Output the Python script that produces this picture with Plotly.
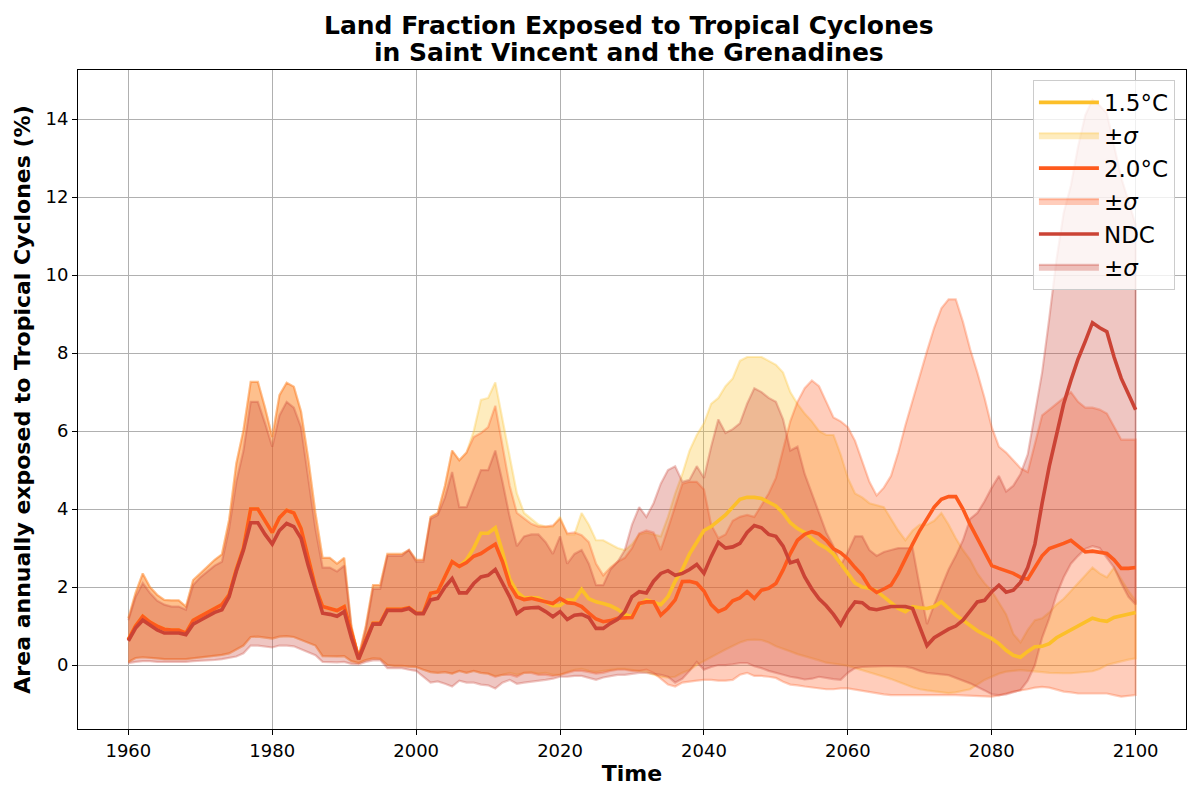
import plotly.graph_objects as go

years = list(range(1960, 2101))

# Shared historical period (1960-2006) for 1.5°C and 2.0°C
hist_mean = [0.65, 1.0, 1.25, 1.1, 1.0, 0.92, 0.9, 0.9, 0.82, 1.15,
             1.25, 1.35, 1.45, 1.55, 1.8, 2.45, 3.0, 4.0, 4.0, 3.7,
             3.4, 3.78, 3.97, 3.9, 3.5, 2.75, 2.0, 1.5, 1.46, 1.4,
             1.5, 0.8, 0.18, 0.65, 1.07, 1.07, 1.43, 1.43, 1.43, 1.47,
             1.33, 1.33, 1.84, 1.88, 2.26, 2.65, 2.53]
hist_upper = [1.2, 1.85, 2.35, 2.0, 1.8, 1.67, 1.66, 1.66, 1.5, 2.18,
              2.35, 2.52, 2.7, 2.84, 3.72, 5.17, 6.03, 7.26, 7.26, 6.6,
              5.85, 6.92, 7.24, 7.14, 6.5, 5.3, 3.9, 2.75, 2.75, 2.6,
              2.75, 1.0, 0.22, 1.0, 2.05, 2.05, 2.85, 2.85, 2.85, 2.95,
              2.7, 2.7, 3.8, 3.9, 4.6, 5.5, 5.25]
hist_lower = [0.08, 0.18, 0.2, 0.18, 0.17, 0.15, 0.15, 0.15, 0.15, 0.18,
              0.2, 0.22, 0.24, 0.26, 0.3, 0.4, 0.5, 0.72, 0.73, 0.7,
              0.68, 0.73, 0.74, 0.72, 0.65, 0.58, 0.5, 0.23, 0.23, 0.22,
              0.23, 0.1, 0.05, 0.13, 0.17, 0.16, 0.0, -0.02, -0.02, -0.04,
              -0.05, -0.12, -0.18, -0.2, -0.18, -0.22, -0.15]

# 2.0°C, 2007-2100
t20_mean = [2.63, 2.79, 2.86,
            2.98, 3.1, 2.65, 2.05, 1.75, 1.68, 1.71, 1.67, 1.62, 1.58,
            1.71, 1.6, 1.58, 1.5, 1.33, 1.18, 1.11, 1.14, 1.2, 1.2,
            1.22, 1.58, 1.62, 1.62, 1.28, 1.45, 1.67, 2.14, 2.15, 2.1,
            1.9, 1.55, 1.37, 1.45, 1.65, 1.72, 1.88, 1.71, 1.92, 1.97,
            2.09, 2.44, 2.86, 3.2, 3.35, 3.42, 3.36, 3.2, 2.98, 2.88,
            2.72, 2.5, 2.3, 2.0, 1.86, 1.95, 2.05, 2.35, 2.75, 3.1,
            3.45, 3.75, 4.05, 4.25, 4.32, 4.32, 4.0, 3.6, 3.25, 2.9,
            2.55, 2.48, 2.42, 2.35, 2.25, 2.2, 2.5, 2.8, 2.99, 3.05,
            3.12, 3.2, 3.05, 2.9, 2.92, 2.9, 2.86, 2.7, 2.48, 2.48, 2.5]
t20_upper = [5.45, 5.85, 5.95,
             6.1, 6.65, 5.6, 4.6, 3.9, 3.75, 3.62, 3.55, 3.55, 3.58,
             3.75, 3.38, 3.4, 3.33, 3.15, 2.6, 2.3, 2.5, 2.65, 2.75,
             3.0, 3.38, 3.45, 3.4, 2.95, 3.5, 4.05, 4.65, 4.7, 4.7,
             4.5, 3.6, 3.25, 3.35, 3.7, 3.8, 3.85, 3.8, 4.1, 4.4,
             4.8, 5.5, 6.25, 6.75, 7.1, 7.3, 7.15, 6.75, 6.35, 6.25,
             6.1, 5.75, 5.25, 4.7, 4.35, 4.55, 4.85, 5.45, 6.15, 6.8,
             7.45, 8.05, 8.65, 9.15, 9.38, 9.38, 8.8, 8.1, 7.5, 6.85,
             6.1, 5.6, 5.45, 5.25, 5.05, 4.95, 5.7, 6.4, 6.55, 6.7,
             6.85, 7.0, 6.75, 6.6, 6.6, 6.55, 6.45, 6.1, 5.78, 5.78, 5.78]
t20_lower = [-0.2, -0.15, -0.2,
             -0.22, -0.3, -0.25, -0.25, -0.3, -0.2, -0.2, -0.25, -0.25, -0.28,
             -0.25, -0.2, -0.15, -0.15, -0.18, -0.22, -0.2, -0.15, -0.12, -0.12,
             -0.15, -0.15, -0.12, -0.2, -0.35, -0.5, -0.55, -0.45, -0.42, -0.4,
             -0.38, -0.38, -0.4, -0.4, -0.38, -0.25, -0.2, -0.28, -0.28, -0.3,
             -0.33, -0.43, -0.5, -0.52, -0.55, -0.58, -0.6, -0.62, -0.62, -0.6,
             -0.6, -0.63, -0.66, -0.7, -0.72, -0.75, -0.77, -0.77, -0.77, -0.77,
             -0.77, -0.77, -0.77, -0.77, -0.77, -0.77, -0.78, -0.78, -0.79, -0.8,
             -0.81, -0.78, -0.73, -0.68, -0.65, -0.62, -0.58, -0.56, -0.58, -0.63,
             -0.68, -0.7, -0.73, -0.73, -0.73, -0.73, -0.73, -0.77, -0.81, -0.79, -0.77]

# 1.5°C, 2007-2100
t15_mean = [2.7, 3.0, 3.38,
            3.38, 3.52, 2.9, 2.2, 1.88, 1.72, 1.73, 1.72, 1.62, 1.52,
            1.53, 1.67, 1.67, 1.94, 1.7, 1.62, 1.58, 1.52, 1.43, 1.3,
            1.24, 1.55, 1.67, 1.6, 1.55, 1.75, 2.15, 2.45, 2.85, 3.15,
            3.45, 3.55, 3.7, 3.85, 4.05, 4.25, 4.3, 4.3, 4.27, 4.17,
            4.08, 3.9, 3.65, 3.5, 3.4, 3.25, 3.1, 3.0, 2.85, 2.6,
            2.35, 2.1, 2.0, 1.97, 1.9, 1.75, 1.6, 1.45, 1.37, 1.5,
            1.47, 1.45, 1.5, 1.62, 1.45, 1.28, 1.15, 1.02, 0.88, 0.78,
            0.68, 0.55, 0.38, 0.25, 0.2, 0.35, 0.47, 0.48, 0.55, 0.7,
            0.8, 0.92, 1.02, 1.12, 1.2, 1.15, 1.12, 1.22, 1.27, 1.32, 1.35]
t15_upper = [5.45, 6.0, 6.8,
             6.85, 7.25, 6.3, 5.3, 4.4, 3.9, 3.75, 3.6, 3.55, 3.55,
             3.8, 3.35, 3.35, 3.9, 3.6, 3.2, 3.2, 3.1, 3.0, 2.95,
             3.1, 3.35, 3.4, 3.35, 3.3, 3.8, 4.4, 4.9, 5.5, 5.9,
             6.2, 6.7, 6.85, 7.15, 7.35, 7.8, 7.9, 7.9, 7.9, 7.8,
             7.7, 7.5, 7.0, 6.7, 6.45, 6.25, 6.0, 5.9, 5.9, 5.4,
             4.8, 4.4, 4.3, 4.15, 4.1, 4.05, 3.75, 3.45, 3.2, 3.45,
             3.6, 3.6, 3.7, 3.9, 3.6, 3.25, 2.95, 2.7, 2.35, 2.1,
             1.9, 1.6, 1.3, 0.8, 0.58, 0.9, 1.15, 1.2, 1.35, 1.55,
             1.7, 1.9, 2.1, 2.3, 2.5, 2.35, 2.25, 2.5, 2.2, 1.9, 1.65]
t15_lower = [-0.2, -0.15, -0.2,
             -0.22, -0.28, -0.25, -0.2, -0.25, -0.2, -0.18, -0.22, -0.2, -0.25,
             -0.25, -0.18, -0.12, -0.1, -0.15, -0.18, -0.15, -0.12, -0.1, -0.1,
             -0.12, -0.15, -0.18, -0.25, -0.3, -0.32, -0.3, -0.2, -0.13, 0.0,
             0.1, 0.2, 0.3, 0.4, 0.5, 0.58, 0.64, 0.65, 0.64, 0.58,
             0.48, 0.42, 0.35, 0.28, 0.22, 0.17, 0.12, 0.06, 0.03, 0.01,
             -0.02, -0.07, -0.13, -0.18, -0.24, -0.3, -0.36, -0.42, -0.5, -0.57,
             -0.62, -0.65, -0.68, -0.7, -0.72, -0.7, -0.66, -0.62, -0.5, -0.38,
             -0.3, -0.22, -0.17, -0.15, -0.13, -0.14, -0.16, -0.18, -0.2, -0.21,
             -0.21, -0.21, -0.2, -0.18, -0.16, -0.1, 0.0, 0.05, 0.1, 0.14, 0.17]

# NDC, 1960-2100
ndc_mean = [0.62, 0.95, 1.15, 1.02, 0.9, 0.82, 0.82, 0.82, 0.78, 1.05,
            1.15, 1.25, 1.35, 1.42, 1.75, 2.4, 2.95, 3.65, 3.65, 3.35,
            3.1, 3.45, 3.63, 3.55, 3.25, 2.55, 1.9, 1.33, 1.3, 1.25,
            1.37, 0.7, 0.15, 0.6, 1.05, 1.05, 1.4, 1.4, 1.4, 1.45,
            1.32, 1.32, 1.67, 1.71, 2.0, 2.22, 1.85, 1.85, 2.09, 2.26,
            2.3, 2.45, 2.1, 1.75, 1.32, 1.45, 1.47, 1.48, 1.37, 1.24,
            1.37, 1.17, 1.28, 1.3, 1.22, 0.94, 0.94, 1.07, 1.17, 1.37,
            1.75, 1.88, 1.85, 2.15, 2.35, 2.42, 2.3, 2.35, 2.45, 2.58,
            2.35, 2.78, 3.15, 3.0, 3.03, 3.12, 3.4, 3.58, 3.52, 3.35,
            3.3, 3.05, 2.62, 2.68, 2.26, 1.95, 1.7, 1.52, 1.3, 1.03,
            1.37, 1.62, 1.6, 1.45, 1.42, 1.47, 1.5, 1.5, 1.5, 1.45,
            0.95, 0.5, 0.7, 0.82, 0.92, 1.0, 1.15, 1.38, 1.62, 1.66,
            1.88, 2.05, 1.87, 1.92, 2.12, 2.5, 3.1, 4.15, 5.1, 5.9,
            6.7, 7.3, 7.85, 8.3, 8.78, 8.65, 8.55, 7.9, 7.35, 6.95, 6.55]
ndc_upper = [1.15, 1.75, 2.1, 1.85, 1.65, 1.55, 1.5, 1.5, 1.42, 2.05,
             2.25, 2.4, 2.55, 2.65, 3.5, 4.7, 5.5, 6.75, 6.75, 6.2,
             5.6, 6.4, 6.75, 6.6, 6.1, 4.8, 3.5, 2.5, 2.5, 2.4,
             2.55, 0.95, 0.2, 0.9, 1.95, 1.95, 2.8, 2.8, 2.8, 2.95,
             2.65, 2.65, 3.75, 3.85, 4.3, 4.95, 4.05, 4.05, 4.55, 5.0,
             5.0, 5.5, 4.7, 3.8, 3.05, 3.3, 3.35, 3.35, 3.15, 2.85,
             3.3, 2.6, 2.85, 2.95, 2.6, 2.05, 2.05, 2.45, 2.65, 2.95,
             3.6, 4.05, 3.8, 4.15, 4.65, 5.0, 5.1, 4.7, 4.75, 5.1,
             4.8, 5.6, 6.3, 5.95, 6.05, 6.2, 6.7, 7.1, 7.0, 6.85,
             6.75, 6.3, 5.5, 5.6, 4.9, 4.4, 3.9, 3.4, 3.05, 2.55,
             2.9, 3.3, 3.3, 2.95, 2.8, 2.9, 2.95, 3.0, 3.0, 3.0,
             2.0, 1.05, 1.55, 2.0, 2.45, 2.8, 3.2, 3.75, 3.9, 4.2,
             4.55, 4.85, 4.45, 4.6, 4.9, 5.4, 6.4, 7.5, 8.9, 10.4,
             11.6, 12.3, 13.3, 14.1, 14.5, 14.35, 14.15, 13.3, 12.5, 11.9, 11.3]
ndc_lower = [0.05, 0.08, 0.1, 0.1, 0.08, 0.08, 0.08, 0.08, 0.08, 0.1,
             0.12, 0.12, 0.13, 0.15, 0.18, 0.22, 0.3, 0.5, 0.5, 0.48,
             0.45, 0.5, 0.5, 0.48, 0.4, 0.33, 0.25, 0.08, 0.08, 0.07,
             0.08, 0.03, 0.02, 0.08, 0.12, 0.12, -0.08, -0.08, -0.08, -0.12,
             -0.15, -0.3, -0.45, -0.42, -0.48, -0.55, -0.4, -0.45, -0.45, -0.5,
             -0.52, -0.6, -0.45, -0.38, -0.48, -0.45, -0.42, -0.4, -0.38, -0.35,
             -0.3, -0.3, -0.28, -0.28, -0.32, -0.38, -0.32, -0.28, -0.25, -0.25,
             -0.22, -0.2, -0.2, -0.22, -0.25, -0.3, -0.45, -0.35, -0.15, 0.08,
             -0.12, -0.05, 0.0, 0.0, 0.02, 0.05, 0.05, -0.03, -0.08, -0.15,
             -0.2, -0.25, -0.3, -0.33, -0.37, -0.35, -0.3, -0.33, -0.36, -0.38,
             -0.2, -0.08, -0.05, -0.04, -0.03, -0.03, -0.03, -0.03, -0.04, -0.08,
             -0.15, -0.2, -0.22, -0.24, -0.26, -0.32, -0.4, -0.47, -0.55, -0.65,
             -0.75, -0.77, -0.75, -0.7, -0.64, -0.4, 0.0, 0.7, 1.2, 1.8,
             2.25, 2.6, 2.8, 2.98, 3.05, 3.0, 2.75, 2.5, 2.1, 1.75, 1.55]

title_lines = ["Land Fraction Exposed to Tropical Cyclones",
               "in Saint Vincent and the Grenadines"]

series = [
    ("1.5°C", hist_mean + t15_mean, hist_upper + t15_upper, hist_lower + t15_lower, (252, 191, 41)),
    ("2.0°C", hist_mean + t20_mean, hist_upper + t20_upper, hist_lower + t20_lower, (254, 90, 29)),
    ("NDC", ndc_mean, ndc_upper, ndc_lower, (203, 67, 53)),
]

FONT = "DejaVu Sans"
fig = go.Figure()

rank = 1
for name, mean, up, lo, c in series:
    fig.add_trace(go.Scatter(
        x=years + years[::-1], y=up + lo[::-1], fill="toself",
        fillcolor="rgba(%d,%d,%d,0.3)" % c,
        line=dict(color="rgba(%d,%d,%d,0.3)" % c, width=2.2),
        name="±<i>σ</i>", legendrank=rank + 1, hoverinfo="skip", mode="lines"))
    rank += 2

rank = 1
for name, mean, up, lo, c in series:
    fig.add_trace(go.Scatter(
        x=years, y=mean, mode="lines", name=name, legendrank=rank,
        line=dict(color="rgb(%d,%d,%d)" % c, width=3.6)))
    rank += 2

axis_common = dict(
    showgrid=True, gridcolor="#b0b0b0", gridwidth=1,
    showline=True, linecolor="black", linewidth=1, mirror=True,
    ticks="outside", ticklen=5, tickcolor="black",
    tickfont=dict(family=FONT, size=18, color="black"),
    zeroline=False,
)

for txt, yy in zip(title_lines, [1.0668, 1.0258]):
    fig.add_annotation(text="<b>%s</b>" % txt, xref="paper", yref="paper",
                       x=0.497, y=yy, xanchor="center", yanchor="middle",
                       showarrow=False, font=dict(family=FONT, size=25, color="black"))

fig.update_layout(
    width=1184, height=784,
    paper_bgcolor="white", plot_bgcolor="white",
    margin=dict(l=70, r=6, t=62, b=63),
    xaxis=dict(range=[1953.0, 2107.0], tickvals=[1960, 1980, 2000, 2020, 2040, 2060, 2080, 2100],
               title=dict(text="<b>Time</b>", font=dict(family=FONT, size=22, color="black"), standoff=6),
               automargin=False, **axis_common),
    yaxis=dict(range=[-1.64, 15.26], tickvals=[0, 2, 4, 6, 8, 10, 12, 14],
               title=dict(text="<b>Area annually exposed to Tropical Cyclones (%)</b>",
                          font=dict(family=FONT, size=22, color="black"), standoff=8),
               automargin=False, **axis_common),
    legend=dict(x=0.99, y=0.985, xanchor="right", yanchor="top",
                bgcolor="rgba(255,255,255,0.8)", bordercolor="#cccccc", borderwidth=1,
                font=dict(family=FONT, size=23, color="black"),
                tracegroupgap=0, itemwidth=60),
    showlegend=True,
)

fig.write_html("out.html")
